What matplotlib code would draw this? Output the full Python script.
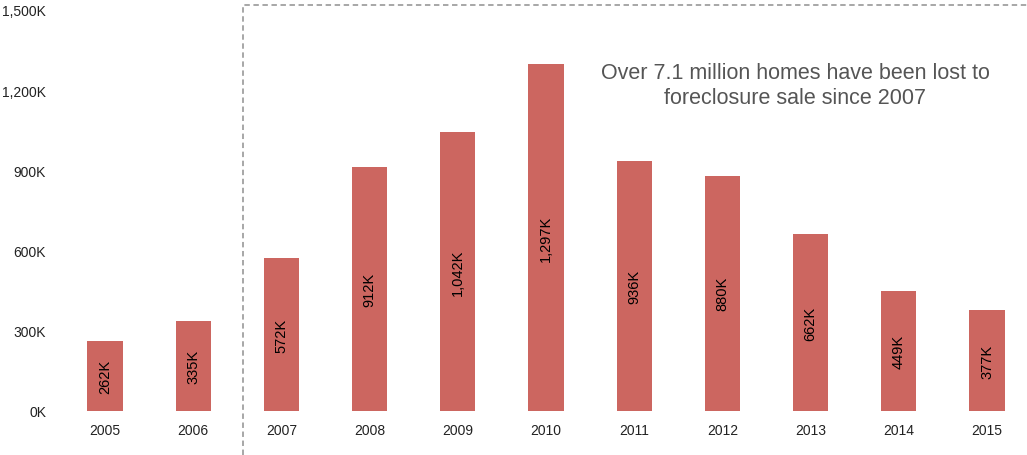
import matplotlib
matplotlib.use("Agg")
import matplotlib.pyplot as plt
from matplotlib.lines import Line2D

years = ["2005", "2006", "2007", "2008", "2009", "2010", "2011", "2012", "2013", "2014", "2015"]
values = [262, 335, 572, 912, 1042, 1297, 936, 880, 662, 449, 377]
bar_labels = ["262K", "335K", "572K", "912K", "1,042K", "1,297K", "936K", "880K", "662K", "449K", "377K"]
yticks = [0, 300, 600, 900, 1200, 1500]
ytick_labels = ["0K", "300K", "600K", "900K", "1,200K", "1,500K"]
annotation = "Over 7.1 million homes have been lost to\nforeclosure sale since 2007"

plt.rcParams['font.family'] = ['Liberation Sans', 'DejaVu Sans']

W, H = 1027, 456
fig = plt.figure(figsize=(W / 100, H / 100), dpi=100)
ax_left_px, ax_right_px = 60, 1027
ax = fig.add_axes([ax_left_px / W, (H - 412) / H, (ax_right_px - ax_left_px) / W, (412 - 11) / H])

x = list(range(len(years)))
ax.bar(x, values, width=0.4, color="#cc6660")
step = 88.2
x0 = 105
ax.set_xlim((ax_left_px - x0) / step, (ax_right_px - x0) / step)
ax.set_ylim(0, 1500)

for xi, v, lab in zip(x, values, bar_labels):
    ax.text(xi, v / 2, lab, rotation=90, ha="center", va="center", fontsize=10.5, color="black")

ax.set_xticks(x)
ax.set_xticklabels(years, fontsize=10, color="#222222")
ax.set_yticks(yticks)
ax.set_yticklabels(ytick_labels, fontsize=10, color="#222222")
ax.tick_params(axis="both", length=0)
ax.tick_params(axis="x", pad=8.5)
ax.tick_params(axis="y", pad=10)
for s in ax.spines.values():
    s.set_visible(False)

# dashed region
fig.add_artist(Line2D([243 / W, 243 / W, 1.0], [0.0, (H - 6) / H, (H - 6) / H],
                      transform=fig.transFigure, color="#a0a0a0", linestyle=(0, (3, 2)), linewidth=1.3))

fig.text(795 / W, (H - 86) / H, annotation, ha="center", va="center", fontsize=15.5,
         color="#555555", linespacing=1.3)

fig.savefig("out.png", dpi=100)
